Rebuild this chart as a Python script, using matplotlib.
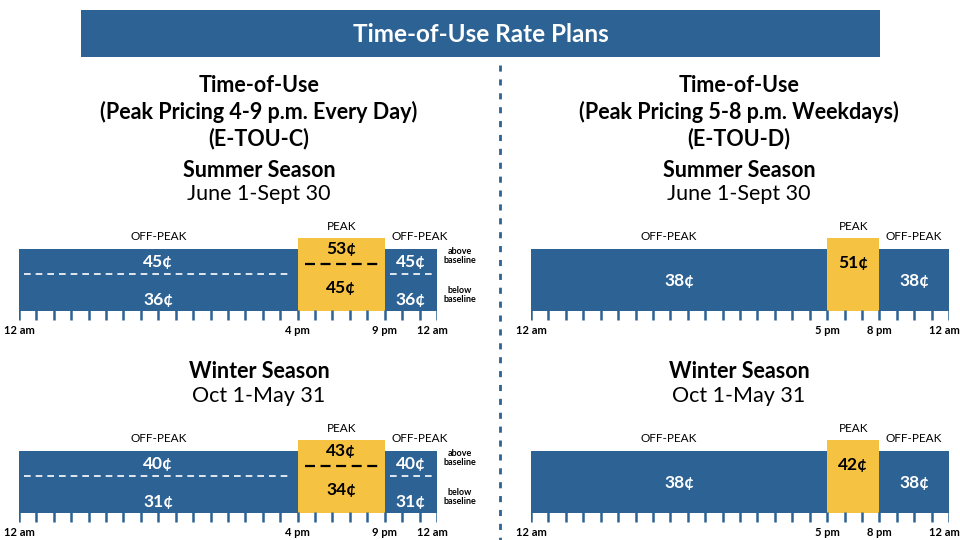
# Time-of-Use Rate Plans (E-TOU-C / E-TOU-D)
import matplotlib.pyplot as plt
from matplotlib.lines import Line2D

plt.rcParams['font.family'] = ['Lato', 'DejaVu Sans']

BLUE = "#2D6394"
YELLOW = "#F5C242"

# planos e janelas de pico (horas)
plans = ["E-TOU-C", "E-TOU-D"]
plan_titles = ["(Peak Pricing 4-9 p.m. Every Day)", "(Peak Pricing 5-8 p.m. Weekdays)"]
peak_c = (16, 21)
peak_d = (17, 20)
tick_labels_c = ["12 am", "4 pm", "9 pm", "12 am"]
tick_labels_d = ["12 am", "5 pm", "8 pm", "12 am"]

seasons = ["Summer Season", "Winter Season"]
season_dates = ["June 1-Sept 30", "Oct 1-May 31"]

# tarifas em centavos: [fora do pico, pico]
c_above = [[45, 53], [40, 43]]   # acima da linha de base (verão, inverno)
c_below = [[36, 45], [31, 34]]   # abaixo da linha de base
d_rates = [[38, 51], [38, 42]]

fig = plt.figure(figsize=(9.6, 5.4), dpi=100)
fig.patch.set_facecolor("white")


def fx(x):
    return x / 960


def fy(y):
    return 1 - y / 540


# faixa do título
tax = fig.add_axes([fx(81), fy(57), fx(799), 47 / 540])
tax.set_facecolor(BLUE)
tax.set_xticks([])
tax.set_yticks([])
for s in tax.spines.values():
    s.set_visible(False)
tax.text(0.5, 0.48, "Time-of-Use Rate Plans", color="white", fontsize=17.5,
         fontweight="bold", ha="center", va="center", transform=tax.transAxes)

# linha divisória
fig.add_artist(Line2D([fx(500), fx(500)], [fy(65), 0], color=BLUE, lw=2,
                      linestyle=(0, (2.2, 2.8)), transform=fig.transFigure))

# cabeçalhos
HS = 15.5
for cx, title, code in [(259, plan_titles[0], plans[0]), (739, plan_titles[1], plans[1])]:
    fig.text(fx(cx), fy(85), "Time-of-Use", fontsize=HS, fontweight="bold", ha="center", va="center")
    fig.text(fx(cx), fy(112), title, fontsize=HS, fontweight="bold", ha="center", va="center")
    fig.text(fx(cx), fy(139), "(" + code + ")", fontsize=HS, fontweight="bold", ha="center", va="center")
    for k in range(2):
        off = 202 * k
        fig.text(fx(cx), fy(170 + off), seasons[k], fontsize=HS, fontweight="bold", ha="center", va="center")
        fig.text(fx(cx), fy(194 + off), season_dates[k], fontsize=HS, ha="center", va="center")


def panel(x0, bar_top, peak, ticks, lab_x, above, below=None):
    ax = fig.add_axes([fx(x0), fy(bar_top + 90), fx(418), 130 / 540])
    ax.set_xlim(0, 24)
    ax.set_ylim(90, -40)
    ax.axis("off")
    p0, p1 = peak
    # barra fora do pico
    ax.bar(0, 62, width=24, bottom=0, align="edge", color=BLUE)
    # pico
    ax.bar(p0, 73, width=p1 - p0, bottom=-11, align="edge", color=YELLOW)
    # marcas de hora
    ax.vlines(range(25), 61, 71, color=BLUE, lw=1.8)
    tick_x = [0, p0, p1, 23.75]
    for tx, tl in zip(tick_x, ticks):
        ax.text(tx, 81, tl, fontsize=8, fontweight="bold", ha="center", va="center")

    left_c = p0 / 2
    right_c = (p1 + 24) / 2
    pk = (p0 + p1) / 2
    ax.text(lab_x[0], -12, "OFF-PEAK", fontsize=8.5, ha="center", va="center")
    ax.text(lab_x[1], -12, "OFF-PEAK", fontsize=8.5, ha="center", va="center")
    ax.text(pk, -23, "PEAK", fontsize=8.5, ha="center", va="center")

    vs = 12.5
    if below is None:
        ax.text(left_c, 32, f"{above[0]}¢", color="white", fontsize=vs, fontweight="bold", ha="center", va="center")
        ax.text(right_c, 32, f"{above[0]}¢", color="white", fontsize=vs, fontweight="bold", ha="center", va="center")
        ax.text(pk, 14, f"{above[1]}¢", color="black", fontsize=vs, fontweight="bold", ha="center", va="center")
    else:
        ax.hlines(25, 0.3, p0 - 0.3, colors="white", lw=1.2, linestyles=(0, (4, 3)))
        ax.hlines(25, p1 + 0.3, 23.7, colors="white", lw=1.2, linestyles=(0, (4, 3)))
        ax.hlines(15, p0 + 0.4, p1 - 0.3, colors="black", lw=1.6, linestyles=(0, (4.5, 2.5)))
        for cx in (left_c, right_c):
            ax.text(cx, 13, f"{above[0]}¢", color="white", fontsize=vs, fontweight="bold", ha="center", va="center")
            ax.text(cx, 51, f"{below[0]}¢", color="white", fontsize=vs, fontweight="bold", ha="center", va="center")
        ax.text(pk, 0, f"{above[1]}¢", color="black", fontsize=vs, fontweight="bold", ha="center", va="center")
        ax.text(pk, 39, f"{below[1]}¢", color="black", fontsize=vs, fontweight="bold", ha="center", va="center")
        ax.text(25.3, 7, "above\nbaseline", fontsize=6.5, fontweight="bold", ha="center", va="center",
                linespacing=1.1, clip_on=False)
        ax.text(25.3, 46, "below\nbaseline", fontsize=6.5, fontweight="bold", ha="center", va="center",
                linespacing=1.1, clip_on=False)


for k in range(2):
    top = 249 + 202 * k
    panel(19, top, peak_c, tick_labels_c, (8, 23), c_above[k], c_below[k])
    panel(531, top, peak_d, tick_labels_d, (7.9, 22), d_rates[k])

fig.savefig("out.png", dpi=100)
